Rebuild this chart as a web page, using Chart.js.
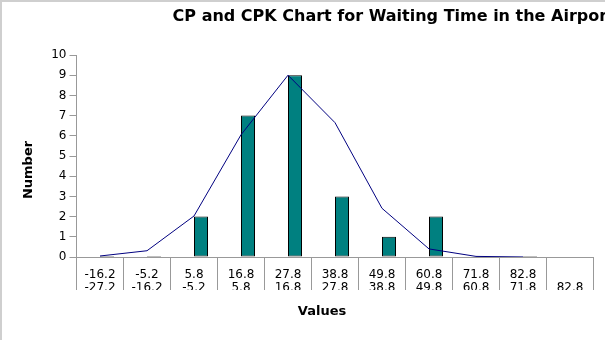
<!DOCTYPE html>
<html>
<head>
<meta charset="utf-8">
<script src="https://cdn.jsdelivr.net/npm/chart.js@4/dist/chart.umd.min.js"></script>
<style>
  html, body { margin: 0; padding: 0; background: #fff; }
  #wrap { width: 605px; height: 340px; }
</style>
</head>
<body>
<div id="wrap"><canvas id="chart" width="605" height="340"></canvas></div>
<script>
// bins: upper / lower bound of each class
const upperBounds = ["-16.2", "-5.2", "5.8", "16.8", "27.8", "38.8", "49.8", "60.8", "71.8", "82.8", ""];
const lowerBounds = ["-27.2", "-16.2", "-5.2", "5.8", "16.8", "27.8", "38.8", "49.8", "60.8", "71.8", "82.8"];
const counts = [0, 0, 2, 7, 9, 3, 1, 2, 0, 0, null];
const normalCurve = [0.05, 0.31, 2.03, 6.05, 9.0, 6.65, 2.41, 0.4, 0.03, 0.003, null];
const yTicks = [0, 1, 2, 3, 4, 5, 6, 7, 8, 9, 10];

const labels = upperBounds.map((u, i) => [u, lowerBounds[i]]);

const FONT = "'DejaVu Sans', sans-serif";

// title, axis titles, frame, label clip
const decor = {
  id: "decor",
  afterDraw(chart) {
    const c = chart.ctx;
    c.save();
    // labels are cut at the bottom of the tick lines
    c.fillStyle = "#fff";
    c.fillRect(chart.chartArea.left + 1, 290, chart.chartArea.right - chart.chartArea.left, 10);

    c.fillStyle = "#000";
    c.font = "bold 16px " + FONT;
    c.textAlign = "left";
    c.textBaseline = "alphabetic";
    c.fillText("CP and CPK Chart for Waiting Time in the Airport", 172.6, 21.2);

    c.font = "bold 13px " + FONT;
    c.textAlign = "center";
    c.textBaseline = "middle";
    c.fillText("Values", 322, 311.5);

    c.translate(28.7, 170);
    c.rotate(-Math.PI / 2);
    c.fillText("Number", 0, 0);
    c.restore();

    c.save();
    c.strokeStyle = "#cfcfcf";
    c.lineWidth = 2;
    c.beginPath();
    c.moveTo(1, 340);
    c.lineTo(1, 1);
    c.lineTo(605, 1);
    c.stroke();
    c.restore();
  }
};

const ctx = document.getElementById("chart").getContext("2d");

new Chart(ctx, {
  type: "bar",
  data: {
    labels: labels,
    datasets: [
      {
        // empty slot so the bars sit right of the category centre
        label: "spacer",
        data: counts.map(() => null),
        backgroundColor: "rgba(0,0,0,0)",
        order: 1
      },
      {
        label: "Number",
        data: counts,
        backgroundColor: "#008080",
        borderColor: "#000",
        borderWidth: 1,
        borderSkipped: false,
        minBarLength: 1,
        order: 2
      },
      {
        type: "line",
        label: "Normal",
        data: normalCurve,
        borderColor: "#000080",
        borderWidth: 1,
        pointRadius: 0,
        tension: 0,
        spanGaps: false,
        order: 0
      }
    ]
  },
  options: {
    responsive: false,
    animation: false,
    devicePixelRatio: 1,
    categoryPercentage: 28 / 47,
    barPercentage: 1.0,
    layout: { padding: { top: 55, right: 11.5, left: 0, bottom: 0 } },
    plugins: {
      legend: { display: false },
      title: { display: false },
      tooltip: { enabled: false }
    },
    scales: {
      x: {
        offset: true,
        grid: {
          offset: true,
          drawOnChartArea: false,
          tickLength: 33,
          color: "#999"
        },
        border: { color: "#999" },
        ticks: {
          font: { family: FONT, size: 12, lineHeight: 1.05 },
          color: "#000",
          padding: -21,
          maxRotation: 0,
          autoSkip: false
        },
        afterFit(scale) { scale.height = 83; }
      },
      y: {
        min: 0,
        max: 10,
        afterBuildTicks(scale) { scale.ticks = yTicks.map(v => ({ value: v })); },
        grid: {
          drawOnChartArea: false,
          tickLength: 7,
          color: "#999"
        },
        border: { color: "#999" },
        ticks: {
          font: { family: FONT, size: 12 },
          color: "#000",
          padding: 3
        },
        afterFit(scale) { scale.width = 76.5; }
      }
    }
  },
  plugins: [decor]
});
</script>
</body>
</html>
